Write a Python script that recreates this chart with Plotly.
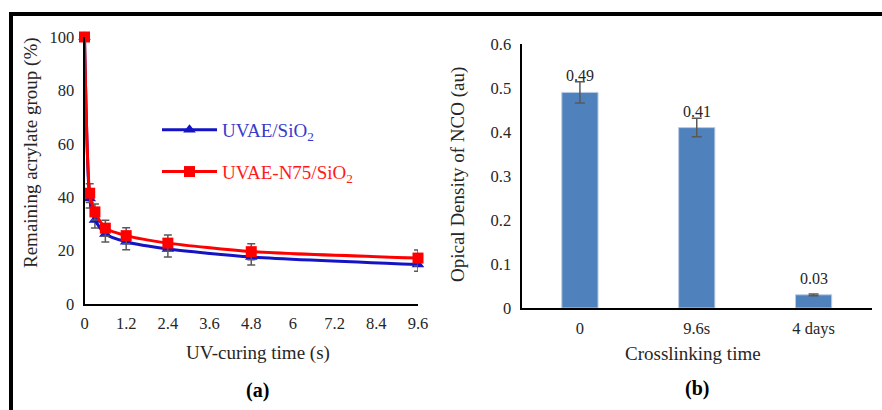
import plotly.graph_objects as go

# ---- Panel (a) data ----
uv_time = [0, 0.15, 0.3, 0.6, 1.2, 2.4, 4.8, 9.6]
uvae_sio2 = [100, 39.5, 31.5, 26.2, 23.3, 20.6, 17.6, 14.8]
uvae_sio2_err = [0, 3.5, 3.0, 3.0, 3.0, 3.0, 3.0, 2.5]
uvae_n75_sio2 = [100, 41.5, 34.5, 28.4, 25.6, 22.8, 19.6, 17.2]
uvae_n75_sio2_err = [0, 3.5, 3.0, 3.0, 3.0, 3.0, 3.0, 3.0]
x_ticks_a = [0, 1.2, 2.4, 3.6, 4.8, 6, 7.2, 8.4, 9.6]
x_ticktext_a = ["0", "1.2", "2.4", "3.6", "4.8", "6", "7.2", "8.4", "9.6"]
y_ticks_a = [0, 20, 40, 60, 80, 100]

# ---- Panel (b) data ----
crosslink_cats = ["0", "9.6s", "4 days"]
nco_density = [0.49, 0.41, 0.03]
nco_err = [0.024, 0.021, 0.002]
nco_labels = ["0.49", "0.41", "0.03"]
y_ticks_b = [0, 0.1, 0.2, 0.3, 0.4, 0.5, 0.6]
y_ticktext_b = ["0", "0.1", "0.2", "0.3", "0.4", "0.5", "0.6"]

W, H = 882, 410
FONT = "Liberation Serif"
BLUE = "#1414c4"
RED = "#ff0000"
ERR = "#595959"
TXT = "#262626"

def px(x):
    return x / W

def py(y):
    return 1 - y / H

fig = go.Figure()

fig.add_trace(go.Scatter(
    x=uv_time, y=uvae_sio2, mode="lines+markers",
    name='<span style="color:#3a3acc">UVAE/SiO<sub>2</sub></span>',
    legendgroup="a",
    line=dict(color=BLUE, width=3, shape="spline", smoothing=0.6),
    marker=dict(symbol="triangle-up", size=11, color=BLUE),
    error_y=dict(type="data", array=uvae_sio2_err, color=ERR, thickness=1.5, width=4),
    cliponaxis=False, xaxis="x", yaxis="y",
))
fig.add_trace(go.Scatter(
    x=uv_time, y=uvae_n75_sio2, mode="lines+markers",
    name='<span style="color:#ff1a1a">UVAE-N75/SiO<sub>2</sub></span>',
    legendgroup="b",
    line=dict(color=RED, width=3, shape="spline", smoothing=0.6),
    marker=dict(symbol="square", size=11, color=RED),
    error_y=dict(type="data", array=uvae_n75_sio2_err, color=ERR, thickness=1.5, width=4),
    cliponaxis=False, xaxis="x", yaxis="y",
))

fig.add_trace(go.Bar(
    x=crosslink_cats, y=nco_density, width=0.31,
    marker=dict(color="#4f81bd", line=dict(color="#b8cce4", width=1)),
    error_y=dict(type="data", array=nco_err, color=ERR, thickness=1.5, width=5),
    showlegend=False, xaxis="x2", yaxis="y2",
))

def axis_style(standoff):
    return dict(showline=True, linecolor="black", linewidth=2, showgrid=False,
                zeroline=False, ticks="", automargin=False, ticklabelstandoff=standoff,
                tickfont=dict(family=FONT, size=16.5, color=TXT))

fig.update_layout(
    width=W, height=H,
    margin=dict(l=0, r=0, t=0, b=0, pad=0, autoexpand=False),
    paper_bgcolor="white", plot_bgcolor="white",
    font=dict(family=FONT, size=16, color=TXT),
    showlegend=True,
    legend=dict(x=px(157), y=py(111), xanchor="left", yanchor="top",
                font=dict(family=FONT, size=19), tracegroupgap=14, itemwidth=55,
                traceorder="grouped", bgcolor="rgba(0,0,0,0)"),
    xaxis=dict(domain=[px(84.5), px(418)], range=[0, 9.6], tickmode="array",
               tickvals=x_ticks_a, ticktext=x_ticktext_a, anchor="y", **axis_style(3)),
    yaxis=dict(domain=[py(304), py(37)], range=[0, 100], tickmode="array",
               tickvals=y_ticks_a, anchor="x", **axis_style(5)),
    xaxis2=dict(domain=[px(521.5), px(872)], range=[-0.5, 2.5], type="category",
                anchor="y2", **axis_style(4)),
    yaxis2=dict(domain=[py(308), py(44)], range=[0, 0.6], tickmode="array",
                tickvals=y_ticks_b, ticktext=y_ticktext_b, anchor="x2", **axis_style(5)),
)

annotations = [
    dict(text="Remaining acrylate group (%)", x=px(31), y=py(153), textangle=-90,
         font=dict(family=FONT, size=19, color=TXT)),
    dict(text="UV-curing time (s)", x=px(258), y=py(353),
         font=dict(family=FONT, size=19, color=TXT)),
    dict(text="<b>(a)</b>", x=px(257), y=py(390),
         font=dict(family=FONT, size=20, color="black")),
    dict(text="Opical Density of NCO (au)", x=px(458), y=py(174), textangle=-90,
         font=dict(family=FONT, size=19, color=TXT)),
    dict(text="Crosslinking time", x=px(693), y=py(353),
         font=dict(family=FONT, size=19, color=TXT)),
    dict(text="<b>(b)</b>", x=px(697), y=py(388),
         font=dict(family=FONT, size=20, color="black")),
]
for a in annotations:
    a.update(xref="paper", yref="paper", showarrow=False, xanchor="center", yanchor="middle")

for c, v, t in zip(crosslink_cats, nco_density, nco_labels):
    annotations.append(dict(text=t, x=c, y=v, xref="x2", yref="y2", showarrow=False,
                            yanchor="middle", yshift=16.5,
                            font=dict(family=FONT, size=16, color=TXT)))

fig.update_layout(annotations=annotations)

# outer frame (top and left edges)
fig.add_shape(type="line", xref="paper", yref="paper", x0=px(9), x1=1, y0=py(14), y1=py(14),
              line=dict(color="black", width=4))
fig.add_shape(type="line", xref="paper", yref="paper", x0=px(11), x1=px(11), y0=py(12), y1=0,
              line=dict(color="black", width=4))

post = "document.body.style.margin = '0'; document.body.style.overflow = 'hidden';"
fig.write_html("out.html", post_script=post, config={"displayModeBar": False})
